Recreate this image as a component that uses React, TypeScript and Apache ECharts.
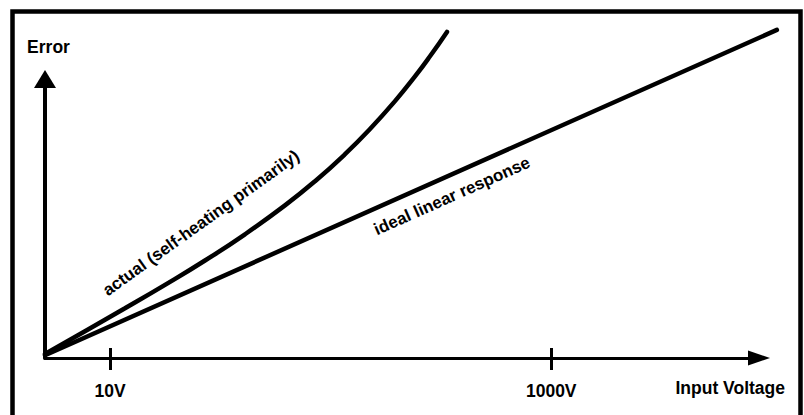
import React, { useEffect, useRef } from 'react';
import * as echarts from 'echarts';

// Visible axis extents (arbitrary schematic units)
const xMin = 0;
const xMax = 100;
const yMin = 0;
const yMax = 100;
// Extents of the (hidden) plotting frame that holds the curves, same units
const plotXMax = 105;
const plotYMax = 120;

// Tick positions and labels on the voltage axis
const xTickValues = [9.1, 70.9];
const xTickLabels = ['10V', '1000V'];

// Actual error curve (self-heating)
const actualX = [0, 5.6, 11.2, 16.81, 22.41, 28.01, 33.61, 37.82, 42.02, 45.52, 49.02, 51.82, 53.92, 56.3];
const actualY = [1.43, 9.61, 17.81, 26.2, 34.95, 44.34, 54.7, 63.37, 73.05, 82.08, 92.08, 100.93, 108.14, 116.88];

// Ideal linear response
const idealX = [0, 102.5];
const idealY = [1.0, 117.6];

const axisTitleY = 'Error';
const axisTitleX = 'Input Voltage';
const actualLabel = 'actual (self-heating primarily)';
const idealLabel = 'ideal linear response';

const FONT = '"Liberation Sans", Arial, Helvetica, sans-serif';

export default function App() {
  const ref = useRef<HTMLDivElement>(null);

  useEffect(() => {
    if (!ref.current) return;
    const chart = echarts.init(ref.current, undefined, { renderer: 'svg' });

    const zip = (xs: number[], ys: number[]) => xs.map((x, i) => [x, ys[i]]);
    const labelFor = (v: number) => {
      let best = 0;
      xTickValues.forEach((t, i) => {
        if (Math.abs(t - v) < Math.abs(xTickValues[best] - v)) best = i;
      });
      return xTickLabels[best];
    };

    const hiddenAxis = {
      show: false,
      axisLine: { show: false },
      axisTick: { show: false },
      axisLabel: { show: false },
      splitLine: { show: false },
    };

    chart.setOption({
      animation: false,
      backgroundColor: '#ffffff',
      grid: [
        { left: 45, right: 45, top: 79, bottom: 57, containLabel: false },
        { left: 45, right: 9.3, top: 23.2, bottom: 57, containLabel: false },
      ],
      xAxis: [
        {
          type: 'value',
          gridIndex: 0,
          position: 'bottom',
          min: xMin,
          max: xMax,
          axisLine: {
            show: true,
            onZero: false,
            symbol: ['none', 'triangle'],
            symbolSize: [15, 22],
            lineStyle: { color: '#000', width: 3 },
          },
          axisTick: {
            show: true,
            customValues: xTickValues,
            length: 12,
            inside: false,
            lineStyle: { color: '#000', width: 3 },
          },
          axisLabel: {
            show: true,
            customValues: xTickValues,
            formatter: (v: number) => labelFor(v),
            margin: 24,
            color: '#000',
            fontFamily: FONT,
            fontWeight: 'bold',
            fontSize: 17.5,
          },
          splitLine: { show: false },
          name: axisTitleX,
          nameLocation: 'end',
          nameGap: 26,
          nameTextStyle: {
            color: '#000',
            fontFamily: FONT,
            fontWeight: 'bold',
            fontSize: 17.5,
            align: 'right',
            verticalAlign: 'top',
            padding: [21, 0, 0, 0],
          },
        },
        {
          type: 'value',
          gridIndex: 0,
          position: 'bottom',
          min: xMin,
          max: xMax,
          axisLine: { show: false },
          axisTick: {
            show: true,
            customValues: xTickValues,
            length: 10,
            inside: true,
            lineStyle: { color: '#000', width: 3 },
          },
          axisLabel: { show: false },
          splitLine: { show: false },
        },
        { type: 'value', gridIndex: 1, min: 0, max: plotXMax, ...hiddenAxis },
      ],
      yAxis: [
        {
          type: 'value',
          gridIndex: 0,
          min: yMin,
          max: yMax,
          axisLine: {
            show: true,
            onZero: false,
            symbol: ['none', 'triangle'],
            symbolSize: [22, 18],
            lineStyle: { color: '#000', width: 4 },
          },
          axisTick: { show: false },
          axisLabel: { show: false },
          splitLine: { show: false },
          name: axisTitleY,
          nameLocation: 'end',
          nameGap: 23,
          nameTextStyle: {
            color: '#000',
            fontFamily: FONT,
            fontWeight: 'bold',
            fontSize: 17.5,
            padding: [0, 0, 0, 7],
          },
        },
        { type: 'value', gridIndex: 1, min: 0, max: plotYMax, ...hiddenAxis },
      ],
      series: [
        {
          type: 'line',
          name: 'ideal',
          xAxisIndex: 2,
          yAxisIndex: 1,
          data: zip(idealX, idealY),
          showSymbol: false,
          clip: false,
          lineStyle: { color: '#000', width: 4.5, cap: 'round' },
          z: 3,
        },
        {
          type: 'line',
          name: 'actual',
          xAxisIndex: 2,
          yAxisIndex: 1,
          data: zip(actualX, actualY),
          smooth: true,
          showSymbol: false,
          clip: false,
          lineStyle: { color: '#000', width: 4.5, cap: 'round' },
          z: 3,
        },
      ],
      graphic: [
        {
          type: 'rect',
          shape: { x: 12.5, y: 11.5, width: 788, height: 420 },
          style: { fill: 'none', stroke: '#000', lineWidth: 4.5 },
          silent: true,
        },
        {
          type: 'text',
          x: 201,
          y: 223,
          rotation: (35.6 * Math.PI) / 180,
          style: {
            text: actualLabel,
            fill: '#000',
            font: `bold 17px ${FONT}`,
            align: 'center',
            verticalAlign: 'middle',
          },
        },
        {
          type: 'text',
          x: 452,
          y: 196,
          rotation: (24 * Math.PI) / 180,
          style: {
            text: idealLabel,
            fill: '#000',
            font: `bold 17px ${FONT}`,
            align: 'center',
            verticalAlign: 'middle',
          },
        },
      ],
    });

    return () => {
      chart.dispose();
    };
  }, []);

  return (
    <div
      ref={ref}
      style={{ position: 'fixed', left: 0, top: 0, width: 804, height: 415, background: '#fff' }}
    />
  );
}
